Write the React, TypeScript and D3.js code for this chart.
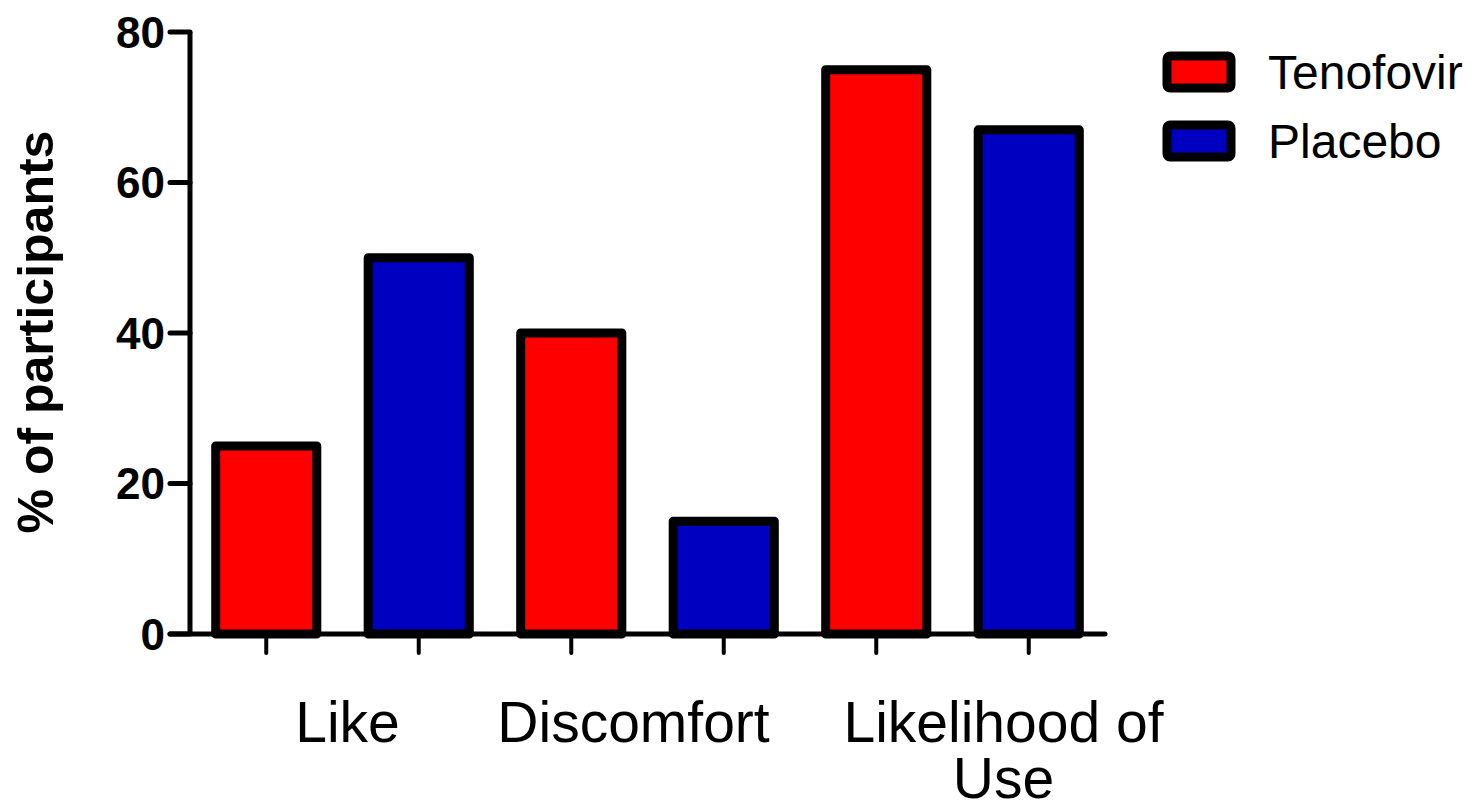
import React, { useEffect, useRef } from "react";
import * as d3 from "d3";

const categories = ["Like", "Discomfort", "Likelihood of Use"];
const categoryLines = [["Like"], ["Discomfort"], ["Likelihood of", "Use"]];
const seriesNames = ["Tenofovir", "Placebo"];
const seriesColors = ["#ff0000", "#0000c0"];
const tenofovirValues = [25, 40, 75];
const placeboValues = [50, 15, 67];
const yTicks = [0, 20, 40, 60, 80];

const W = 1476;
const H = 809;
const font = "Arial, 'Liberation Sans', sans-serif";

export default function App() {
  const svgRef = useRef<SVGSVGElement>(null);

  useEffect(() => {
    document.body.style.margin = "0";
    const svg = d3.select(svgRef.current);
    svg.selectAll("*").remove();

    const x0 = d3.scaleBand().domain(categories).range([190, 1105]).padding(0);
    const x1 = d3
      .scaleBand()
      .domain(seriesNames)
      .range([0, x0.bandwidth()])
      .paddingInner(0.337)
      .paddingOuter(0.1685);
    const y = d3.scaleLinear().domain([0, 80]).range([634, 32]);

    const values = [tenofovirValues, placeboValues];

    // bars
    const g = svg.append("g");
    categories.forEach((c, ci) => {
      seriesNames.forEach((s, si) => {
        const v = values[si][ci];
        g.append("rect")
          .attr("x", x0(c) + x1(s))
          .attr("y", y(v))
          .attr("width", x1.bandwidth())
          .attr("height", y(0) - y(v))
          .attr("fill", seriesColors[si])
          .attr("stroke", "#000")
          .attr("stroke-width", 9)
          .attr("stroke-linejoin", "round");
        // tick below the axis
        const cx = x0(c) + x1(s) + x1.bandwidth() / 2;
        g.append("line")
          .attr("x1", cx)
          .attr("x2", cx)
          .attr("y1", y(0))
          .attr("y2", y(0) + 19)
          .attr("stroke", "#000")
          .attr("stroke-width", 4)
          .attr("stroke-linecap", "round");
      });
    });

    // y axis
    svg.append("line")
      .attr("x1", 190).attr("x2", 190)
      .attr("y1", y(80)).attr("y2", y(0))
      .attr("stroke", "#000").attr("stroke-width", 5);
    yTicks.forEach((t) => {
      svg.append("line")
        .attr("x1", 170).attr("x2", 190)
        .attr("y1", y(t)).attr("y2", y(t))
        .attr("stroke", "#000").attr("stroke-width", 5)
        .attr("stroke-linecap", "round");
      svg.append("text")
        .attr("x", 165)
        .attr("y", y(t))
        .attr("dy", "0.36em")
        .attr("text-anchor", "end")
        .attr("font-family", font)
        .attr("font-weight", "bold")
        .attr("font-size", 44)
        .text(t);
    });

    // x axis
    svg.append("line")
      .attr("x1", 170).attr("x2", 1105)
      .attr("y1", y(0)).attr("y2", y(0))
      .attr("stroke", "#000").attr("stroke-width", 5)
      .attr("stroke-linecap", "round");

    // category labels (multi-line ones as tspans of one text)
    const labelShift = [5, -14, 51];
    categories.forEach((c, ci) => {
      const cx = x0(c) + x0.bandwidth() / 2 + labelShift[ci];
      const txt = svg.append("text")
        .attr("y", 742)
        .attr("text-anchor", "middle")
        .attr("font-family", font)
        .attr("font-size", 57);
      categoryLines[ci].forEach((line, li) => {
        txt.append("tspan")
          .attr("x", cx)
          .attr("dy", li === 0 ? 0 : 56)
          .text(line);
      });
    });

    // y title
    svg.append("text")
      .attr("transform", "translate(53,332) rotate(-90)")
      .attr("text-anchor", "middle")
      .attr("font-family", font)
      .attr("font-weight", "bold")
      .attr("font-size", 50)
      .text("% of participants");

    // legend
    seriesNames.forEach((s, si) => {
      const ly = 72 + si * 69;
      svg.append("rect")
        .attr("x", 1167)
        .attr("y", ly - 16)
        .attr("width", 64)
        .attr("height", 32)
        .attr("rx", 3)
        .attr("fill", seriesColors[si])
        .attr("stroke", "#000")
        .attr("stroke-width", 9)
        .attr("stroke-linejoin", "round");
      svg.append("text")
        .attr("x", 1268)
        .attr("y", ly)
        .attr("dy", "0.36em")
        .attr("font-family", font)
        .attr("font-size", 48)
        .text(s);
    });
  }, []);

  return <svg ref={svgRef} width={W} height={H} style={{ display: "block", background: "#fff" }}></svg>;
}
